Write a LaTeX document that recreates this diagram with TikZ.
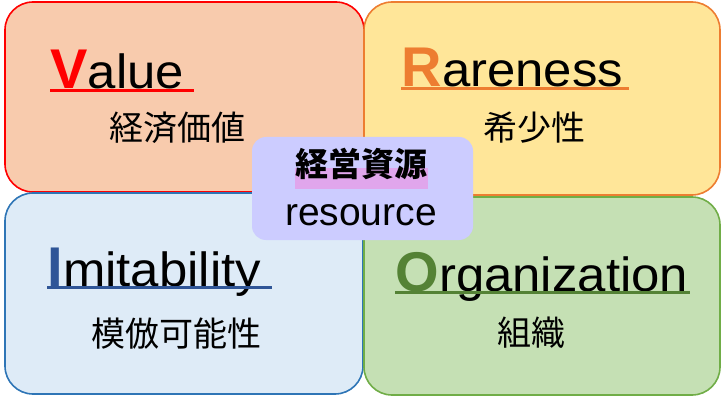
\documentclass[tikz,border=0pt]{standalone}
\usepackage{fontspec}
\setmainfont{Liberation Sans}
\newfontfamily\cjk{Noto Sans CJK JP}
\definecolor{vred}{HTML}{FF0000}
\definecolor{vfill}{HTML}{F8CBAD}
\definecolor{rorange}{HTML}{ED7D31}
\definecolor{rfill}{HTML}{FFE699}
\definecolor{iblue}{HTML}{2E75B6}
\definecolor{iletter}{HTML}{2F5597}
\definecolor{ifill}{HTML}{DEEBF7}
\definecolor{ogreen}{HTML}{70AD47}
\definecolor{oletter}{HTML}{548235}
\definecolor{ofill}{HTML}{C5E0B4}
\definecolor{resfill}{HTML}{CCCCFF}
\definecolor{hilite}{HTML}{E0A6EC}
\newcommand{\wstretch}[1]{\scalebox{1.06}[1]{#1}}
\tikzset{
  qbox/.style={rounded corners=28pt, line width=1.6pt, inner sep=0pt},
  bigletter/.style={anchor=base west, inner sep=0pt, font=\bfseries\fontsize{56}{60}\selectfont},
  restword/.style={anchor=base west, inner sep=0pt, font=\fontsize{48}{52}\selectfont},
  jpsub/.style={anchor=base, inner sep=0pt, font=\cjk\fontsize{34}{38}\selectfont},
  uline/.style={line width=2.4pt}
}
\begin{document}
\begin{tikzpicture}[x=1pt,y=-1pt]
\useasboundingbox (0,0) rectangle (728,401);
% quadrant boxes
\node[qbox, draw=vred, fill=vfill, minimum width=359pt, minimum height=190pt] (vbox) at (184.5,97) {};
\node[qbox, draw=rorange, fill=rfill, minimum width=356pt, minimum height=193pt] (rbox) at (542,98.5) {};
\node[qbox, draw=iblue, fill=ifill, minimum width=358pt, minimum height=201pt] (ibox) at (184,293.5) {};
\node[qbox, draw=ogreen, fill=ofill, minimum width=356pt, minimum height=198pt] (obox) at (542,296) {};
% Value
\node[bigletter, text=vred] (vL) at (50,89) {V};
\node[restword] (vR) at (vL.base east) {\wstretch{alue}};
\draw[uline, vred] ([yshift=-1.5pt]vL.base west) -- ([xshift=10pt,yshift=-1.5pt]vR.base east);
\node[jpsub] (vJ) at (177,141) {経済価値};
% Rareness
\node[bigletter, text=rorange] (rL) at (401,87) {R};
\node[restword] (rR) at (rL.base east) {\wstretch{areness}};
\draw[uline, rorange] ([yshift=-1.5pt]rL.base west) -- ([xshift=6pt,yshift=-1.5pt]rR.base east);
\node[jpsub] (rJ) at (534,141) {希少性};
% Imitability
\node[bigletter, text=iletter] (iL) at (47,286) {I};
\node[restword] (iR) at (iL.base east) {\wstretch{mitability}};
\draw[uline, iletter] ([yshift=-1.5pt]iL.base west) -- ([xshift=11pt,yshift=-1.5pt]iR.base east);
\node[jpsub] (iJ) at (176,346) {模倣可能性};
% Organization
\node[bigletter, text=oletter] (oL) at (395,291) {O};
\node[restword] (oR) at (oL.base east) {\wstretch{rganization}};
\draw[uline, oletter] ([yshift=-1.5pt]oL.base west) -- ([xshift=2pt,yshift=-1.5pt]oR.base east);
\node[jpsub] (oJ) at (531,345) {組織};
% resource
\node[fill=resfill, rounded corners=14pt, minimum width=221pt, minimum height=103pt, inner sep=0pt] (res) at (362.5,188.5) {};
\node[fill=hilite, minimum width=133pt, minimum height=21pt, inner sep=0pt] (hl) at (361.5,178.5) {};
\node[anchor=base, inner sep=0pt, font=\cjk\bfseries\fontsize{33}{37}\selectfont] (resJ) at (361,176) {経営資源};
\node[anchor=base, inner sep=0pt, font=\fontsize{39}{43}\selectfont] (resE) at (361,225) {resource};
\end{tikzpicture}
\end{document}
